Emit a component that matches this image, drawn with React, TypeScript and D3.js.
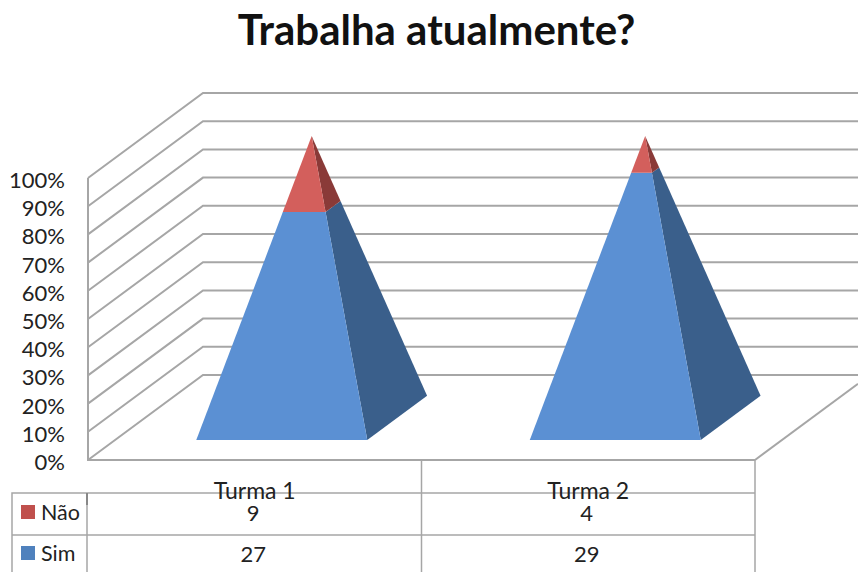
import React from "react";
import * as d3 from "d3";

const title = "Trabalha atualmente?";
const categories = ["Turma 1", "Turma 2"];
const simValues = [27, 29];
const naoValues = [9, 4];
const ticks = [0, 10, 20, 30, 40, 50, 60, 70, 80, 90, 100];

const W = 858, H = 572;
const FONT = "Lato, 'Open Sans', sans-serif";
const GRID = "#a6a6a6";
const depthX = 115, depthY = 85;
const centerDepth = 0.495;
const halfDepth = 0.26;

const xBand = d3.scaleBand<string>().domain(categories).range([88, 755]);
const yPct = d3.scaleLinear().domain([0, 100]).range([460, 178]);
const line = d3.line<[number, number]>().curve(d3.curveLinearClosed);

// project a position in the plot: screen x offset, percent height, depth (0 front .. 1 back)
const project = (x: number, pct: number, depth: number): [number, number] => [
  x + depthX * depth,
  yPct(pct) - depthY * depth,
];

const corners = (cx: number, pct: number, halfW: number) => {
  const k = 1 - pct / 100;
  return {
    fl: project(cx - halfW * k, pct, centerDepth - halfDepth * k),
    fr: project(cx + halfW * k, pct, centerDepth - halfDepth * k),
    br: project(cx + halfW * k, pct, centerDepth + halfDepth * k),
  };
};

function Pyramid({ cat, i }: { cat: string; i: number }) {
  const total = simValues[i] + naoValues[i];
  const split = (simValues[i] / total) * 100;
  const cx = xBand(cat)! + xBand.bandwidth() / 2;
  const halfW = 85.5;
  const b = corners(cx, 0, halfW);
  const m = corners(cx, split, halfW);
  const a = project(cx, 100, centerDepth);
  return (
    <g>
      <path d={line([b.fr, b.br, m.br, m.fr])!} fill="#3a5f8b" />
      <path d={line([b.fl, b.fr, m.fr, m.fl])!} fill="#5b90d3" />
      <path d={line([m.fr, m.br, a])!} fill="#8a3a38" />
      <path d={line([m.fl, m.fr, a])!} fill="#d35f5c" />
    </g>
  );
}

export default function App() {
  const tableTop = 493, rowLine = 535;
  const rows = [
    { name: "Não", color: "#c0504d", values: naoValues, y: 514 },
    { name: "Sim", color: "#4f81bd", values: simValues, y: 555 },
  ];
  const [x0, x1] = xBand.range();
  return (
    <svg width={W} height={H} viewBox={`0 0 ${W} ${H}`}
      style={{ position: "fixed", left: 0, top: 0, display: "block", background: "#fff" }}>
      <text x={436.5} y={45} textAnchor="middle" fontFamily={FONT} fontWeight={700} fontSize={42} fill="#111">{title}</text>

      {ticks.map((t) => {
        const [bx, by] = project(x0, t, 1);
        return (
          <g key={t} stroke={GRID} fill="none" strokeWidth={2}>
            <path d={`M${x0},${yPct(t)}L${bx},${by}L${W},${by}`} />
          </g>
        );
      })}
      <path d={`M${x0},${yPct(100)}V${yPct(0)}H${x1}`} stroke={GRID} strokeWidth={2} fill="none" />
      <path d={`M${x1},${yPct(0)}L${W},${yPct(0) - (depthY * (W - x1)) / depthX}`} stroke={GRID} strokeWidth={2} fill="none" />

      {categories.map((c, i) => <Pyramid key={c} cat={c} i={i} />)}

      {ticks.map((t) => (
        <text key={t} x={65} y={yPct(t) + 10} textAnchor="end" fontFamily={FONT} fontSize={22} fill="#222">{t}%</text>
      ))}

      <g stroke={GRID} strokeWidth={1.5} fill="none">
        <path d={`M12,${H}V${tableTop}H${x1}`} />
        <path d={`M12,${rowLine}H${x1}`} />
        <path d={`M87,${tableTop}V${H}`} />
        <path d={`M${xBand(categories[1])},${yPct(0)}V${H}`} />
        <path d={`M${x1},${yPct(0)}V${H}`} />
      </g>
      <path d={`M87,${tableTop}V505`} stroke="#888" strokeWidth={2} />

      {categories.map((c) => (
        <text key={c} x={xBand(c)! + xBand.bandwidth() / 2} y={499} textAnchor="middle" fontFamily={FONT} fontSize={23} fill="#222">{c}</text>
      ))}
      {rows.map((r) => (
        <g key={r.name}>
          <rect x={21} y={r.y - 9} width={14} height={14} fill={r.color} />
          <text x={41} y={r.y + 6} fontFamily={FONT} fontSize={21.5} fill="#222">{r.name}</text>
          {r.values.map((v, i) => (
            <text key={i} x={xBand(categories[i])! + xBand.bandwidth() / 2 - 1.5} y={r.y + 7} textAnchor="middle" fontFamily={FONT} fontSize={22} fill="#222">{v}</text>
          ))}
        </g>
      ))}
    </svg>
  );
}
